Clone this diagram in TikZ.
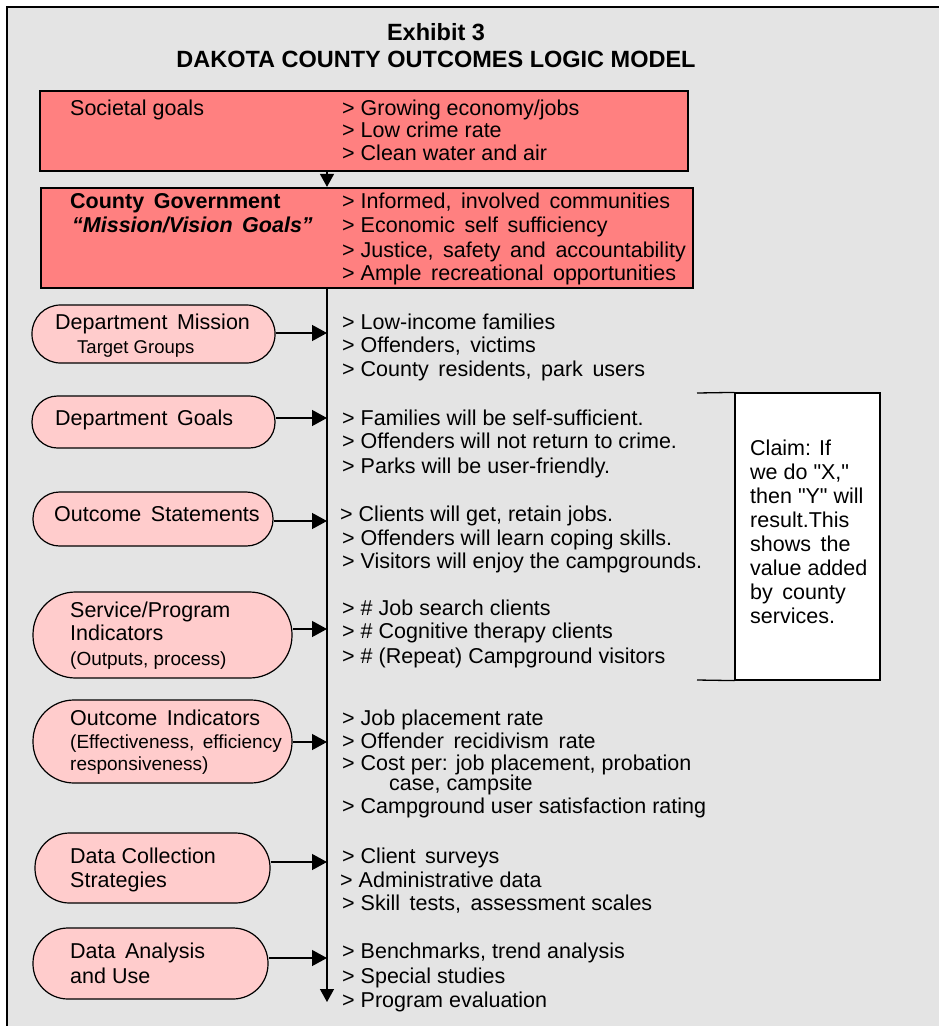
\documentclass[tikz,border=0pt]{standalone}
\usepackage{fontspec}
\setmainfont{Liberation Sans}
\usetikzlibrary{arrows.meta}
\definecolor{bggray}{HTML}{E4E4E4}
\definecolor{boxred}{HTML}{FF8080}
\definecolor{pillpink}{HTML}{FFCCCC}
\def\dq{\XeTeXglyph\XeTeXcharglyph"22 }
\begin{document}
\begin{tikzpicture}[x=1pt,y=-1pt,
  txt/.style={anchor=base west, inner sep=0pt, font=\fontsize{21.5}{24}\selectfont},
  smalltxt/.style={anchor=base west, inner sep=0pt, font=\fontsize{19}{22}\selectfont},
  tinytxt/.style={anchor=base west, inner sep=0pt, font=\fontsize{18.5}{21}\selectfont},
  titletxt/.style={anchor=base, inner sep=0pt, font=\fontsize{23.5}{26}\selectfont\bfseries},
  goalbox/.style={draw=black, line width=2.2pt, fill=boxred, inner sep=0pt},
  pillbox/.style={draw=black, line width=1.2pt, fill=pillpink, inner sep=0pt, rectangle},
  claimbox/.style={draw=black, line width=1.2pt, fill=white, inner sep=0pt},
  arr/.style={line width=1.3pt, -{Triangle[length=15pt,width=16pt]}},
  endarr/.style={line width=1.3pt, -{Triangle[length=13pt,width=14pt]}},
  plain/.style={line width=1.3pt}
]
\useasboundingbox (0,0) rectangle (939,1026);
\fill[white] (0,0) rectangle (939,1026);
\fill[bggray] (7,7) rectangle (939,1026);
\draw[line width=2.2pt, line join=miter] (7,1026) -- (7,7) -- (939,7);

% title
\node[titletxt] (t1) at (436,40) {Exhibit 3};
\node[titletxt] (t2) at (436,67) {DAKOTA COUNTY OUTCOMES LOGIC MODEL};

% spine coordinates
\coordinate (spinetop) at (327,288);
\coordinate (spineend) at (327,1002);

% top boxes
\node[goalbox, minimum width=648, minimum height=80] (b1) at (364,131) {};
\node[goalbox, minimum width=652, minimum height=100] (b2) at (367,238) {};
\draw[endarr] (b1.south -| spinetop) -- (b2.north -| spinetop);
\draw[endarr] (b2.south -| spinetop) -- (spineend);

\node[txt] (b1l) at (70,115) {Societal goals};
\node[txt] (b1a) at (342,115) {> Growing economy/jobs};
\node[txt] (b1b) at (342,137) {> Low crime rate};
\node[txt] (b1c) at (342,160) {> Clean water and air};

\node[txt] (b2l) at (70,208) {\bfseries County\ \,Government};
\node[txt] (b2m) at (72,232) {\bfseries\itshape “Mission/Vision\ \,Goals”};
\node[txt] (b2a) at (342,208) {> Informed,\ \,involved\ \,communities};
\node[txt] (b2b) at (342,232) {> Economic\ \,self\ \,sufficiency};
\node[txt] (b2c) at (342,257) {> Justice,\ \,safety\ \,and\ \,accountability};
\node[txt] (b2d) at (342,280) {> Ample\ \,recreational\ \,opportunities};

% pills
\node[pillbox, minimum width=243, minimum height=58, rounded corners=28.5] (p1) at (153.5,334) {};
\node[pillbox, minimum width=243, minimum height=52, rounded corners=25.5] (p2) at (153.5,422) {};
\node[pillbox, minimum width=240, minimum height=54, rounded corners=26.5] (p3) at (153,519) {};
\node[pillbox, minimum width=259, minimum height=86, rounded corners=42.5] (p4) at (162.5,635) {};
\node[pillbox, minimum width=259, minimum height=83, rounded corners=41] (p5) at (162.5,741.5) {};
\node[pillbox, minimum width=235, minimum height=70, rounded corners=34.5] (p6) at (152.5,868) {};
\node[pillbox, minimum width=235, minimum height=71, rounded corners=35] (p7) at (150.5,963.5) {};

% arrow targets on spine
\coordinate (s1) at (327,333);
\coordinate (s2) at (327,418);
\coordinate (s3) at (327,521);
\coordinate (s4) at (327,629);
\coordinate (s5) at (327,742);
\coordinate (s6) at (327,862);
\coordinate (s7) at (327,958);
\foreach \i in {1,...,7} {\draw[arr] (p\i.east |- s\i) -- (s\i);}

% pill texts
\node[txt] (p1l) at (55,329) {Department\ \,Mission};
\node[tinytxt] (p1m) at (77,353) {Target Groups};
\node[txt] (p2l) at (55,425) {Department\ \,Goals};
\node[txt] (p3l) at (54,521) {Outcome\ \,Statements};
\node[txt] (p4l) at (70,617) {Service/Program};
\node[txt] (p4m) at (70,640) {Indicators};
\node[smalltxt] (p4n) at (70,665) {(Outputs, process)};
\node[txt] (p5l) at (70,725) {Outcome\ \,Indicators};
\node[smalltxt] (p5m) at (70,748) {(Effectiveness,\ \,efficiency};
\node[smalltxt] (p5n) at (70,770) {responsiveness)};
\node[txt] (p6l) at (70,863) {Data Collection};
\node[txt] (p6m) at (70,887) {Strategies};
\node[txt] (p7l) at (70,958) {Data\ \,Analysis};
\node[txt] (p7m) at (70,983) {and Use};

% item lists
\node[txt] (i1a) at (342,329) {> Low-income families};
\node[txt] (i1b) at (342,352) {> Offenders,\ \,victims};
\node[txt] (i1c) at (342,376) {> County\ \,residents,\ \,park\ \,users};

\node[txt] (i2a) at (342,425) {> Families will be self-sufficient.};
\node[txt] (i2b) at (342,448) {> Offenders will not return to crime.};
\node[txt] (i2c) at (342,473) {> Parks will be user-friendly.};

\node[txt] (i3a) at (340,521) {> Clients will get, retain jobs.};
\node[txt] (i3b) at (342,545) {> Offenders will learn coping skills.};
\node[txt] (i3c) at (342,568) {> Visitors will enjoy the campgrounds.};

\node[txt] (i4a) at (342,615) {> \# Job search clients};
\node[txt] (i4b) at (342,638) {> \# Cognitive therapy clients};
\node[txt] (i4c) at (342,663) {> \# (Repeat) Campground visitors};

\node[txt] (i5a) at (342,725) {> Job placement rate};
\node[txt] (i5b) at (342,748) {> Offender\ \,recidivism\ \,rate};
\node[txt] (i5c) at (342,770) {> Cost per: job placement, probation};
\node[txt] (i5d) at (389,790) {case, campsite};
\node[txt] (i5e) at (342,813) {> Campground user satisfaction rating};

\node[txt] (i6a) at (342,863) {> Client\ \,surveys};
\node[txt] (i6b) at (340,887) {> Administrative data};
\node[txt] (i6c) at (342,910) {> Skill\ \,tests,\ \,assessment scales};

\node[txt] (i7a) at (342,958) {> Benchmarks, trend analysis};
\node[txt] (i7b) at (342,983) {> Special studies};
\node[txt] (i7c) at (342,1007) {> Program evaluation};

% claim box
\node[claimbox, minimum width=145, minimum height=287] (claim) at (807.5,536.5) {};
\coordinate (cl1) at (697,393);
\coordinate (cl2) at (697,680);
\draw[plain] (cl1) -- (claim.north west);
\draw[plain] (cl2) -- (claim.south west);
\node[txt] (c1) at (750,455) {Claim: If};
\node[txt] (c2) at (750,479) {we do \dq X,\dq};
\node[txt] (c3) at (750,503) {then \dq Y\dq\ will};
\node[txt] (c4) at (750,527) {result.This};
\node[txt] (c5) at (750,551) {shows\ \,the};
\node[txt] (c6) at (750,575) {value added};
\node[txt] (c7) at (750,599) {by\ \,county};
\node[txt] (c8) at (750,623) {services.};
\end{tikzpicture}
\end{document}
